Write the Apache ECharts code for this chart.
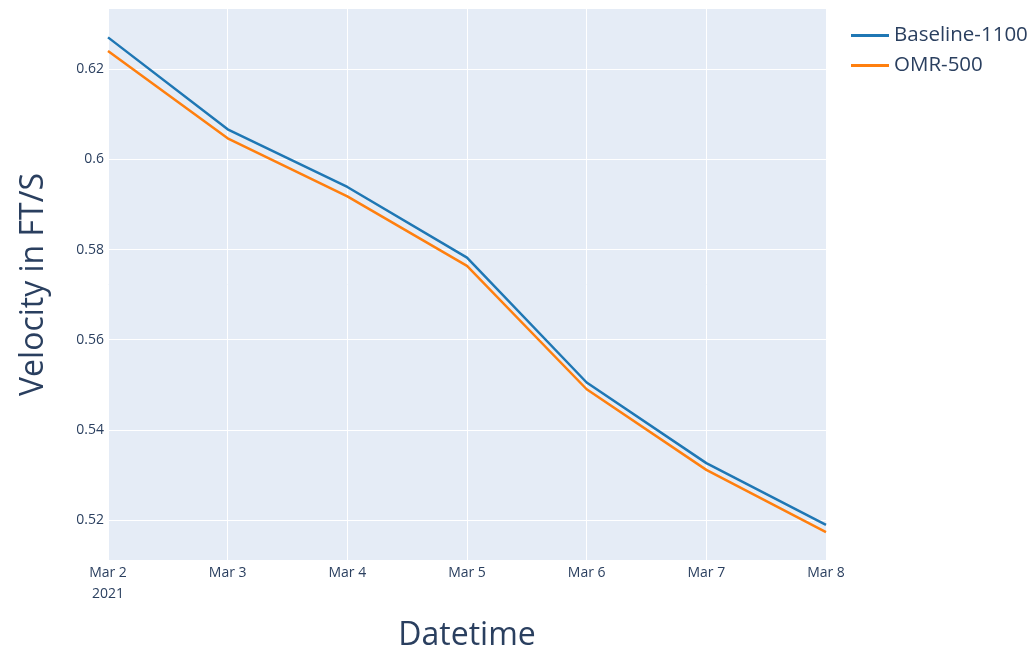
<!DOCTYPE html>
<html>
<head>
<meta charset="utf-8">
<script src="https://cdn.jsdelivr.net/npm/echarts@6/dist/echarts.min.js"></script>
<style>
html,body{margin:0;padding:0;background:#fff;}
#chart{width:1035px;height:654px;}
</style>
</head>
<body>
<div id="chart"></div>
<script>
const categories = ['Mar 2\n2021', 'Mar 3', 'Mar 4', 'Mar 5', 'Mar 6', 'Mar 7', 'Mar 8'];
const baseline1100 = [0.6271, 0.6067, 0.5939, 0.5782, 0.5505, 0.5326, 0.5189];
const omr500 = [0.6241, 0.6047, 0.5918, 0.5764, 0.5490, 0.5311, 0.5173];
const yTicks = [0.52, 0.54, 0.56, 0.58, 0.60, 0.62];

const font = '"Open Sans", "Noto Sans", sans-serif';
const txt = '#2a3f5f';

const chart = echarts.init(document.getElementById('chart'), null, {renderer: 'canvas'});
chart.setOption({
  animation: false,
  backgroundColor: '#ffffff',
  textStyle: {fontFamily: font, color: txt},
  grid: {left: 108, right: 209, top: 9, bottom: 94, show: true, backgroundColor: '#E5ECF6', borderWidth: 0, containLabel: false, outerBoundsMode: 'none'},
  legend: {
    orient: 'vertical', left: 846, top: 20, itemGap: 9,
    icon: 'rect', itemWidth: 38, itemHeight: 3,
    textStyle: {fontFamily: font, fontSize: 20.5, color: txt},
    data: ['Baseline-1100', 'OMR-500']
  },
  xAxis: {
    type: 'category', data: categories, boundaryGap: false,
    name: 'Datetime', nameLocation: 'middle', nameGap: 60,
    nameTextStyle: {fontFamily: font, fontSize: 32, color: txt},
    axisLine: {show: false}, axisTick: {show: false},
    axisLabel: {fontFamily: font, fontSize: 14, color: txt, margin: 3, lineHeight: 21, interval: 0},
    splitLine: {show: true, interval: 0, lineStyle: {color: '#ffffff', width: 1}}
  },
  yAxis: {
    type: 'value', min: 0.5111, max: 0.6334,
    name: 'Velocity in FT/S', nameLocation: 'middle', nameGap: 58,
    nameTextStyle: {fontFamily: font, fontSize: 32, color: txt},
    axisLine: {show: false},
    axisTick: {show: false, customValues: yTicks},
    axisLabel: {fontFamily: font, fontSize: 14, color: txt, margin: 4, customValues: yTicks},
    splitLine: {show: true, lineStyle: {color: '#ffffff', width: 1}}
  },
  series: [
    {name: 'Baseline-1100', type: 'line', data: baseline1100, symbol: 'none', color: '#1f77b4', lineStyle: {width: 2.5, color: '#1f77b4'}},
    {name: 'OMR-500', type: 'line', data: omr500, symbol: 'none', color: '#ff7f0e', lineStyle: {width: 2.5, color: '#ff7f0e'}}
  ]
});
</script>
</body>
</html>
